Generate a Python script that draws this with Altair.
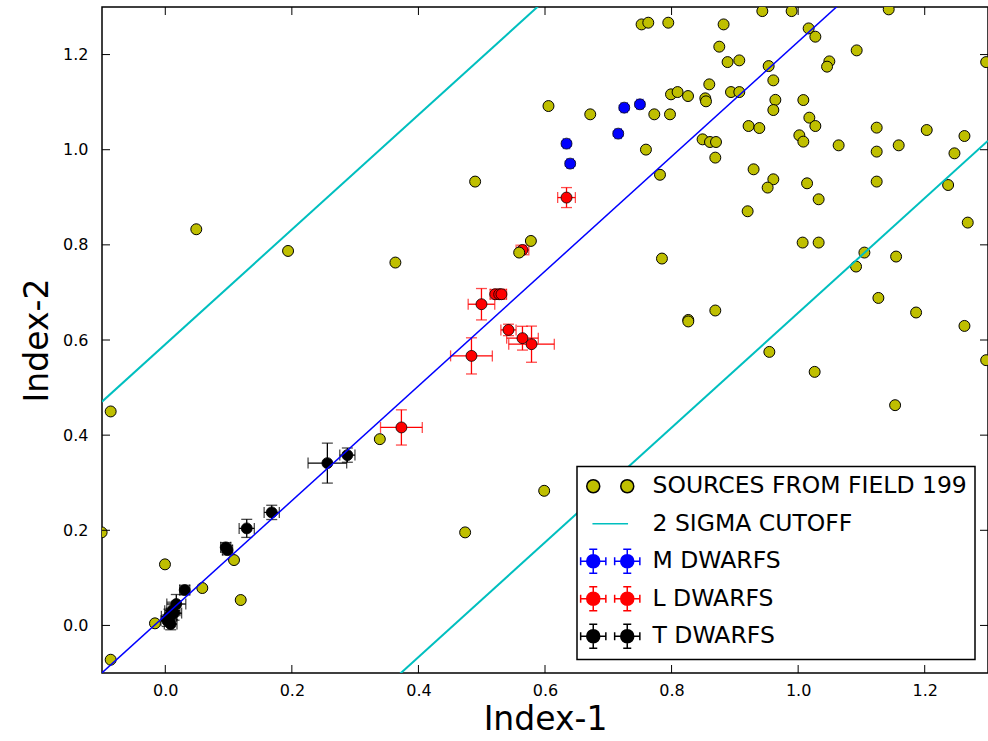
import altair as alt
import pandas as pd

# ---- field sources (Index-1, Index-2) ----
src_x = [0.7526, 0.7632, 0.7948, 0.8822, 0.9434, 0.9897, 1.1431, 0.8754, 0.8885, 0.9070,
         0.6055, 0.6715, 0.7727, 0.7975, 0.7991, 0.8095, 0.8260, 0.8596, 0.8533, 0.8544,
         0.8939, 0.9070, 0.7595, 0.8490, 0.8607, 0.8702, 0.8691, 0.9217, 0.9387, 0.9296,
         0.7817, 1.0166, 1.0272, 1.0925, 1.0493, 1.0457, 1.2971, 0.9534, 0.9608, 0.9640,
         0.9608, 1.0082, 1.0177, 1.0272, 1.0019, 1.0082, 1.0640, 1.1241, 1.1241, 1.1589,
         1.2032, 1.2628, 1.2470, 0.9608, 0.9518, 1.0141, 1.1241, 1.2370, 1.0324, 1.2680,
         1.0071, 1.0324, 1.1047, 1.0915, 1.1548, 1.1268, 1.1864, 1.2628, 0.9202, 0.7848,
         0.8264, 0.8264, 0.8691, 0.9545, 1.0261, 1.1532, 1.2971, 0.5987, 0.0490, 0.1940,
         0.3636, 0.4896, 0.5592, 0.5777, -0.0863, -0.1006, -0.0005, -0.0163, -0.0863, 0.0585,
         0.1086, 0.1192, 0.3390, 0.4738]
src_y = [1.2634, 1.2670, 1.2670, 1.2634, 1.2914, 1.2914, 1.2950, 1.2166, 1.1842, 1.1878,
         1.0918, 1.0744, 1.0744, 1.0744, 1.1164, 1.1212, 1.1128, 1.1374, 1.1080, 1.1017,
         1.1212, 1.1212, 1.0002, 1.0218, 1.0162, 1.0162, 0.9834, 1.0498, 1.0456, 0.9588,
         0.9473, 1.2550, 1.2376, 1.2088, 1.1857, 1.1746, 1.1842, 1.1758, 1.1458, 1.1048,
         1.0834, 1.1044, 1.0674, 1.0498, 1.0303, 1.0170, 1.0092, 1.0464, 0.9960, 1.0092,
         1.0414, 1.0288, 0.9924, 0.9378, 0.9204, 0.9294, 0.9330, 0.9258, 0.8958, 0.8468,
         0.8048, 0.8048, 0.7838, 0.7544, 0.7754, 0.6884, 0.6578, 0.6296, 0.8706, 0.7712,
         0.6422, 0.6390, 0.6620, 0.5750, 0.5330, 0.4630, 0.5576, 0.2830, 0.8328, 0.7872,
         0.7628, 0.9330, 0.7838, 0.8082, 0.4498, 0.1956, 0.1284, 0.0044, -0.0721, 0.0786,
         0.1374, 0.0534, 0.3916, 0.1956]

# ---- M dwarfs ----
m_x = [0.6340, 0.6398, 0.7157, 0.7252, 0.7500]
m_y = [1.0128, 0.9708, 1.0338, 1.0884, 1.0954]
m_xerr = [0.005, 0.005, 0.005, 0.005, 0.005]
m_yerr = [0.005, 0.005, 0.005, 0.005, 0.005]

# ---- L dwarfs ----
l_x = [0.4996, 0.5213, 0.5276, 0.5312, 0.5423, 0.5644, 0.5787, 0.4838, 0.3731, 0.6340, 0.5644]
l_y = [0.6752, 0.6962, 0.6962, 0.6962, 0.6212, 0.6038, 0.5912, 0.5666, 0.4162, 0.8994, 0.7893]
l_xerr = [0.021, 0.008, 0.008, 0.008, 0.012, 0.025, 0.036, 0.033, 0.033, 0.014, 0.010]
l_yerr = [0.033, 0.010, 0.010, 0.010, 0.012, 0.025, 0.038, 0.038, 0.037, 0.021, 0.010]

# ---- T dwarfs ----
t_x = [0.2561, 0.2877, 0.1682, 0.1287, 0.0955, 0.0983, 0.0307, 0.0174, 0.0111, 0.0058,
       0.0032, 0.0085, 0.0138]
t_y = [0.3412, 0.3580, 0.2376, 0.2040, 0.1641, 0.1584, 0.0744, 0.0450, 0.0309, 0.0191,
       0.0099, 0.0029, 0.0260]
t_xerr = [0.0305, 0.012, 0.012, 0.012, 0.008, 0.008, 0.008, 0.015, 0.012, 0.012, 0.010, 0.010, 0.012]
t_yerr = [0.0420, 0.015, 0.015, 0.019, 0.010, 0.010, 0.010, 0.020, 0.018, 0.015, 0.012, 0.012, 0.015]

# ---- linear relation and 2 sigma band ----
fit_slope = 1.206
fit_intercept = 0.021
cutoff = 0.57
line_x = [-0.1, 1.3]

ticks = [0.0, 0.2, 0.4, 0.6, 0.8, 1.0, 1.2]
legend_labels = ["SOURCES FROM FIELD 199", "2 SIGMA CUTOFF", "M DWARFS", "L DWARFS", "T DWARFS"]

YELLOW = "#bfbf00"
CYAN = "#00bfbf"
BLUE = "#0000ff"
RED = "#ff0000"
BLACK = "#000000"

W, H = 886, 666
TICK_LEN = 8

xs = alt.Scale(domain=[-0.1, 1.3], nice=False, zero=False)
ys = alt.Scale(domain=[-0.1, 1.3], nice=False, zero=False)
x_axis = alt.Axis(title="Index-1", values=ticks, format=".1f", ticks=False, domain=False,
                  grid=False, labelPadding=9, titlePadding=5)
y_axis = alt.Axis(title="Index-2", values=ticks, format=".1f", ticks=False, domain=False,
                  grid=False, labelPadding=14, titlePadding=8)


def X(field):
    return alt.X(field, type="quantitative", scale=xs, axis=x_axis)


def Y(field):
    return alt.Y(field, type="quantitative", scale=ys, axis=y_axis)


def dwarf_layers(xv, yv, xe, ye, color):
    df = pd.DataFrame({"x": xv, "y": yv})
    df["xlo"] = df["x"] - pd.Series(xe)
    df["xhi"] = df["x"] + pd.Series(xe)
    df["ylo"] = df["y"] - pd.Series(ye)
    df["yhi"] = df["y"] + pd.Series(ye)
    base = alt.Chart(df)
    xbar = base.mark_errorbar(ticks=True, size=11, thickness=1.3, color=color).encode(
        x=X("xlo"), x2="xhi", y=Y("y"))
    ybar = base.mark_errorbar(ticks=True, size=11, thickness=1.3, color=color).encode(
        y=Y("ylo"), y2="yhi", x=X("x"))
    pts = base.mark_point(filled=True, fill=color, stroke=BLACK, strokeWidth=0.8,
                          size=120, opacity=1).encode(x=X("x"), y=Y("y"))
    return [xbar, ybar, pts]


layers = []
layers += dwarf_layers(m_x, m_y, m_xerr, m_yerr, BLUE)
layers += dwarf_layers(l_x, l_y, l_xerr, l_yerr, RED)
layers += dwarf_layers(t_x, t_y, t_xerr, t_yerr, BLACK)

# field sources
src = pd.DataFrame({"x": src_x, "y": src_y})
layers.append(
    alt.Chart(src).mark_point(filled=True, fill=YELLOW, stroke=BLACK, strokeWidth=1,
                              size=120, opacity=1, clip=True)
    .encode(x=X("x"), y=Y("y"))
)

# 2 sigma cutoffs and the relation itself
lines = pd.DataFrame({"x": line_x})
lines["fit"] = fit_slope * lines["x"] + fit_intercept
lines["upper"] = lines["fit"] + cutoff
lines["lower"] = lines["fit"] - cutoff
for col in ["upper", "lower"]:
    layers.append(alt.Chart(lines).mark_line(color=CYAN, strokeWidth=2, clip=True)
                  .encode(x=X("x"), y=Y(col)))
layers.append(alt.Chart(lines).mark_line(color=BLUE, strokeWidth=1.5, clip=True)
              .encode(x=X("x"), y=Y("fit")))

# inward tick marks on all four sides
tk = pd.DataFrame({"t": ticks})
tick_style = dict(color=BLACK, strokeWidth=1)
layers.append(alt.Chart(tk).mark_rule(**tick_style).encode(
    x=X("t"), y=alt.value(H), y2=alt.value(H - TICK_LEN)))
layers.append(alt.Chart(tk).mark_rule(**tick_style).encode(
    x=X("t"), y=alt.value(0), y2=alt.value(TICK_LEN)))
layers.append(alt.Chart(tk).mark_rule(**tick_style).encode(
    y=Y("t"), x=alt.value(0), x2=alt.value(TICK_LEN)))
layers.append(alt.Chart(tk).mark_rule(**tick_style).encode(
    y=Y("t"), x=alt.value(W), x2=alt.value(W - TICK_LEN)))


# legend glyphs; one path unit is 10 px at symbolSize 400
def circle(cx, r):
    return (f"M{cx - r:.3f},0A{r:.3f},{r:.3f},0,1,0,{cx + r:.3f},0"
            f"A{r:.3f},{r:.3f},0,1,0,{cx - r:.3f},0Z")


def errcross(cx, ex, ey, cap):
    return (f"M{cx - ex:.3f},0L{cx + ex:.3f},0M{cx:.3f},{-ey:.3f}L{cx:.3f},{ey:.3f}"
            f"M{cx - ex:.3f},{-cap:.3f}L{cx - ex:.3f},{cap:.3f}"
            f"M{cx + ex:.3f},{-cap:.3f}L{cx + ex:.3f},{cap:.3f}"
            f"M{cx - cap:.3f},{-ey:.3f}L{cx + cap:.3f},{-ey:.3f}"
            f"M{cx - cap:.3f},{ey:.3f}L{cx + cap:.3f},{ey:.3f}")


R, CX, EY = 0.65, 1.7, 1.2
# zero-length strokes give every glyph the same vertical extent, so rows space evenly
row_extent = f"M0,{-EY}L0,{-EY}M0,{EY}L0,{EY}"
dots_path = circle(-CX, R) + circle(CX, R) + row_extent
line_path = "M-1.78,0L1.78,0" + row_extent
dwarf_path = "".join(errcross(c, 1.26, EY, 0.4) + circle(c, R) for c in (-CX, CX))

leg = pd.DataFrame({"label": legend_labels, "lx": [None] * 5, "ly": [None] * 5})
layers.append(
    alt.Chart(leg).mark_point(filled=True, strokeWidth=1.5, opacity=1).encode(
        x=X("lx"), y=Y("ly"),
        fill=alt.Fill("label:N", scale=alt.Scale(domain=legend_labels,
                      range=[YELLOW, "transparent", BLUE, RED, BLACK]),
                      legend=alt.Legend(title=None)),
        stroke=alt.Stroke("label:N", scale=alt.Scale(domain=legend_labels,
                          range=[BLACK, CYAN, BLUE, RED, BLACK]),
                          legend=alt.Legend(title=None)),
        shape=alt.Shape("label:N", scale=alt.Scale(domain=legend_labels,
                        range=[dots_path, line_path, dwarf_path, dwarf_path, dwarf_path]),
                        legend=alt.Legend(title=None)),
    )
)

chart = (
    alt.layer(*layers)
    .properties(width=W, height=H,
                autosize=alt.AutoSizeParams(type="none"),
                padding={"left": 102, "top": 7, "right": 0, "bottom": 68},
                background="white")
    .configure_view(stroke=BLACK, strokeWidth=1.5)
    .configure_axis(labelFont="DejaVu Sans", labelFontSize=16, labelColor=BLACK,
                    titleFont="DejaVu Sans", titleFontSize=33, titleFontWeight="normal",
                    titleColor=BLACK)
    .configure_legend(orient="none", legendX=475, legendY=459.5, padding=8,
                      strokeColor=BLACK, strokeWidth=1.5, fillColor="white", cornerRadius=0,
                      symbolSize=400, symbolStrokeWidth=1.5, symbolOffset=13.5,
                      labelOffset=30.5,
                      labelFont="DejaVu Sans", labelFontSize=23.5, labelColor=BLACK,
                      labelLimit=1000, rowPadding=6.5)
)

chart.save("out.html", embed_options={"renderer": "svg", "actions": False})
